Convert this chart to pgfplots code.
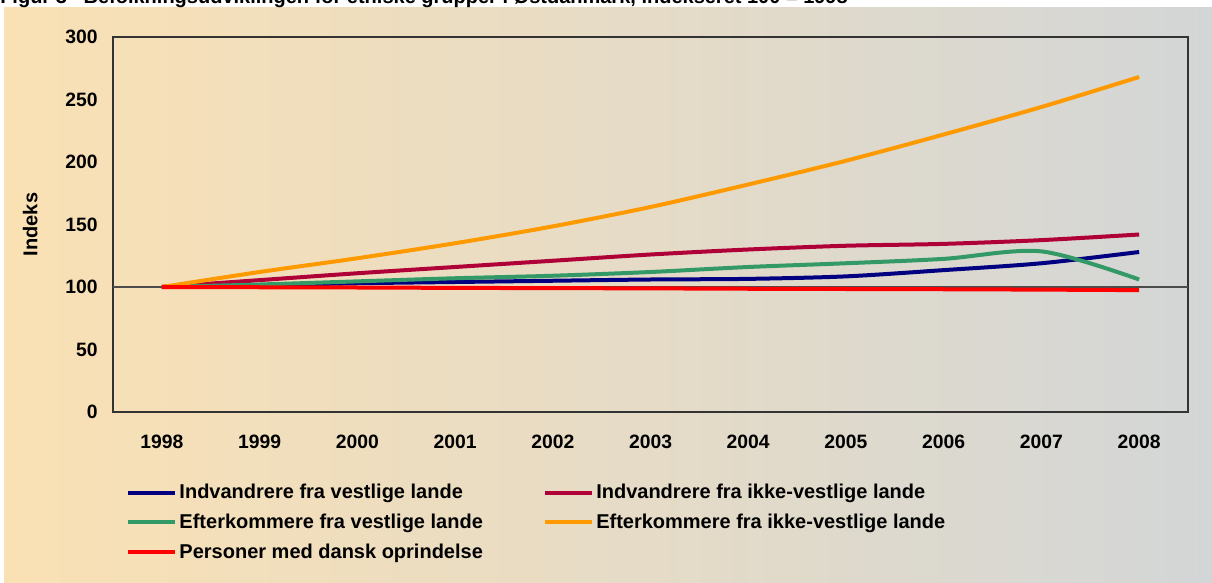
\documentclass[border=0pt]{standalone}
\usepackage{pgfplots}
\pgfplotsset{compat=1.18}
\usepackage{fontspec}
\setmainfont{Liberation Sans}
\definecolor{cnavy}{RGB}{0,0,128}
\definecolor{ccrimson}{RGB}{176,0,56}
\definecolor{cgreen}{RGB}{51,153,102}
\definecolor{corange}{RGB}{255,153,0}
\definecolor{cred}{RGB}{255,0,0}
\definecolor{bgleft}{RGB}{250,225,180}
\definecolor{bgright}{RGB}{211,214,215}
\begin{document}
\begin{tikzpicture}
% 1px = 0.75pt, picture is 1212 x 582 px
\useasboundingbox (0,0) rectangle (909pt,436.5pt);
\fill[white] (0,0) rectangle (909pt,436.5pt);
\shade[left color=bgleft, right color=bgright] (3pt,0) rectangle (909pt,430.5pt);
\node[anchor=base west, font=\fontsize{15}{17}\selectfont\bfseries, inner sep=0pt] at (0pt,433.5pt)
  {Figur 3\ \ \ Befolkningsudviklingen for etniske grupper i Østdanmark, indekseret 100 = 1998};
\begin{axis}[
  at={(84.75pt,127.5pt)}, anchor=south west,
  scale only axis, width=806.25pt, height=281.25pt,
  xmin=-0.5, xmax=10.5, ymin=0, ymax=300,
  xtick={0,...,10},
  xticklabels={1998,1999,2000,2001,2002,2003,2004,2005,2006,2007,2008},
  ytick={0,50,...,300},
  extra y ticks={100}, extra y tick labels={},
  extra y tick style={grid=major, major grid style={draw=black!70, line width=0.8pt}},
  major tick length=0pt,
  axis line style={draw=black!80, line width=0.8pt},
  ticklabel style={font=\fontsize{14.5}{16}\selectfont\bfseries},
  /pgf/number format/assume math mode=true,
  /pgf/number format/1000 sep={},
  xticklabel style={yshift=-14pt},
  yticklabel style={xshift=-8pt},
  ylabel={Indeks}, ylabel style={font=\fontsize{15}{17}\selectfont\bfseries, yshift=14pt},
  axis background/.style={fill=none},
  legend columns=2,
  legend cell align=left,
  legend style={at={(0.012,-0.185)}, anchor=north west, draw=none, fill=none,
    font=\fontsize{15}{17}\selectfont\bfseries, inner sep=0pt,
    row sep=6pt,
    /tikz/every even column/.append style={column sep=43pt}},
  legend image code/.code={\draw[#1, line width=3pt] (0pt,0pt) -- (35pt,0pt);},
  every axis plot/.append style={line width=3pt, smooth, tension=0.5},
]
\addplot[cnavy] coordinates {
  (0,100) (1,101.5) (2,103) (3,104) (4,105) (5,106) (6,106.5) (7,108.5) (8,113.5) (9,119) (10,128)
}; \addlegendentry{Indvandrere fra vestlige lande}
\addplot[ccrimson] coordinates {
  (0,100) (1,105.5) (2,111) (3,116) (4,121) (5,126) (6,130) (7,133) (8,134.5) (9,137.5) (10,142)
}; \addlegendentry{Indvandrere fra ikke-vestlige lande}
\addplot[cgreen] coordinates {
  (0,100) (1,102) (2,104.5) (3,107) (4,109) (5,112) (6,116) (7,119) (8,122.5) (9,128.5) (10,106)
}; \addlegendentry{Efterkommere fra vestlige lande}
\addplot[corange] coordinates {
  (0,100) (1,112) (2,123) (3,135) (4,148.5) (5,164) (6,182) (7,201) (8,222) (9,244) (10,268)
}; \addlegendentry{Efterkommere fra ikke-vestlige lande}
\addplot[cred] coordinates {
  (0,100) (1,99.8) (2,99.6) (3,99.3) (4,99.1) (5,98.9) (6,98.6) (7,98.4) (8,98.2) (9,97.9) (10,97.5)
}; \addlegendentry{Personer med dansk oprindelse}
\end{axis}
\end{tikzpicture}
\end{document}
